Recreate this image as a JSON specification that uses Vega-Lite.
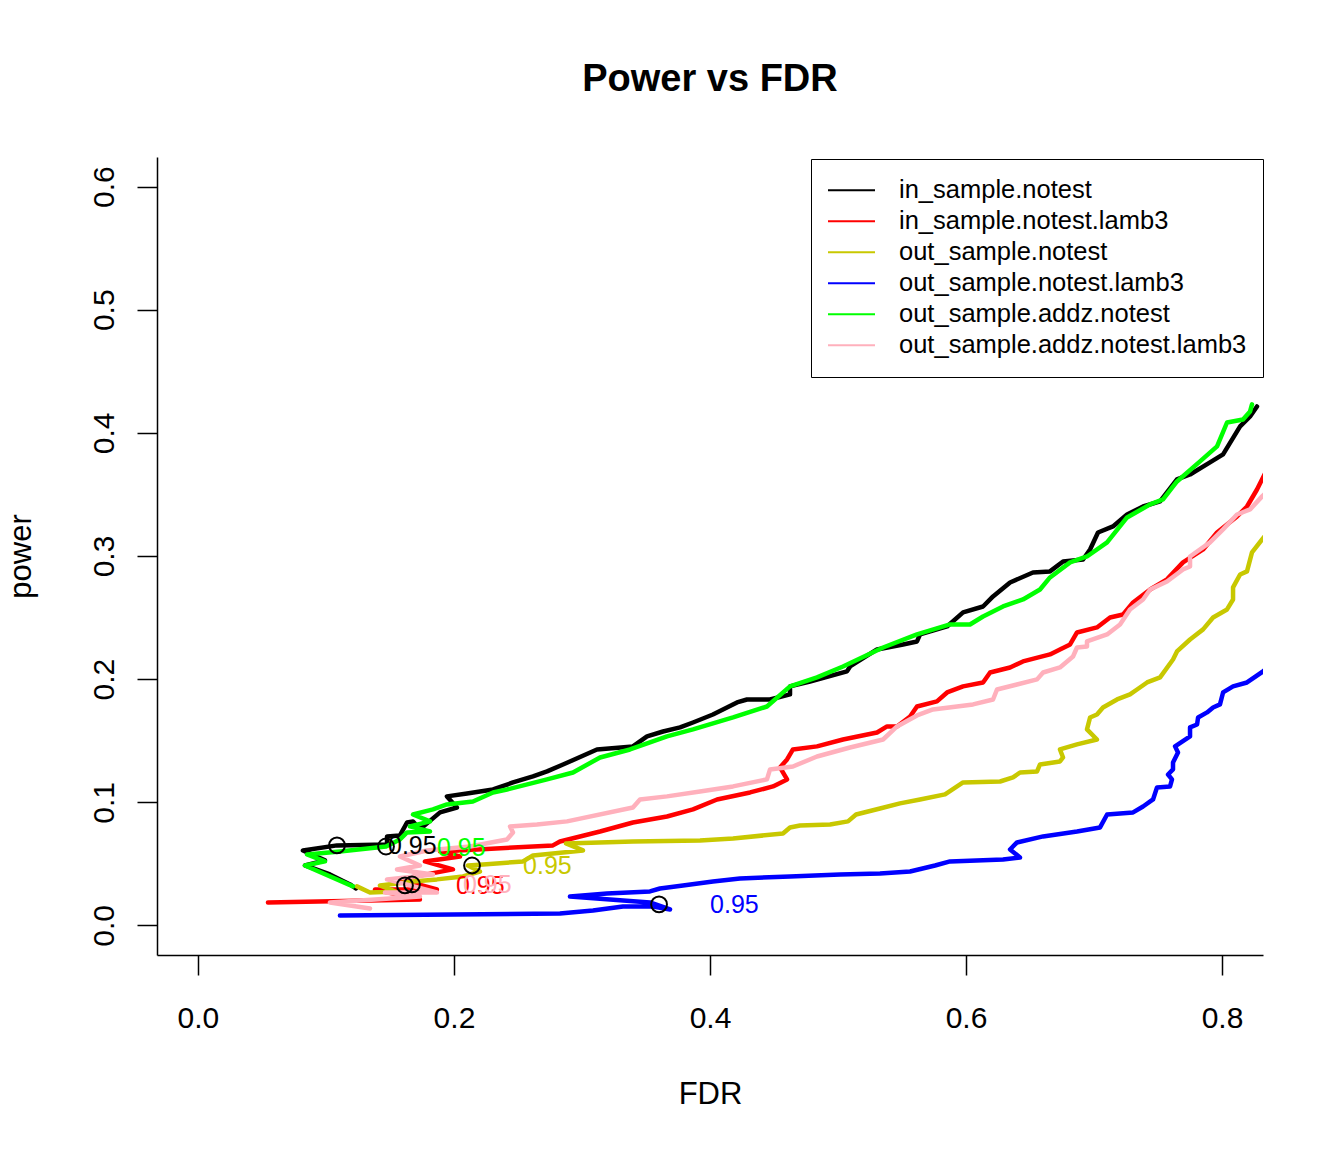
{
"$schema": "https://vega.github.io/schema/vega-lite/v6.json",
"width": 1106,
"height": 798,
"autosize": {"type": "none"},
"padding": {"left": 157, "top": 157, "right": 81, "bottom": 197},
"background": "white",
"title": {"text": "Power vs FDR", "fontSize": 38, "fontWeight": "bold", "font": "Liberation Sans", "color": "black", "anchor": "middle", "frame": "group", "baseline": "middle", "offset": 39},
"config": {"view": {"stroke": null}, "font": "Liberation Sans"},
"datasets": {
"lines": [
{"series":"in_sample.notest","i":1,"fdr":0.1234,"power":0.0300},
{"series":"in_sample.notest","i":2,"fdr":0.1188,"power":0.0333},
{"series":"in_sample.notest","i":3,"fdr":0.1031,"power":0.0414},
{"series":"in_sample.notest","i":4,"fdr":0.0836,"power":0.0487},
{"series":"in_sample.notest","i":5,"fdr":0.0992,"power":0.0528},
{"series":"in_sample.notest","i":6,"fdr":0.0820,"power":0.0609},
{"series":"in_sample.notest","i":7,"fdr":0.1086,"power":0.0650},
{"series":"in_sample.notest","i":8,"fdr":0.1477,"power":0.0658},
{"series":"in_sample.notest","i":9,"fdr":0.1477,"power":0.0723},
{"series":"in_sample.notest","i":10,"fdr":0.1578,"power":0.0731},
{"series":"in_sample.notest","i":11,"fdr":0.1633,"power":0.0836},
{"series":"in_sample.notest","i":12,"fdr":0.1680,"power":0.0845},
{"series":"in_sample.notest","i":13,"fdr":0.1734,"power":0.0780},
{"series":"in_sample.notest","i":14,"fdr":0.1891,"power":0.0918},
{"series":"in_sample.notest","i":15,"fdr":0.2023,"power":0.0958},
{"series":"in_sample.notest","i":16,"fdr":0.1945,"power":0.1048},
{"series":"in_sample.notest","i":17,"fdr":0.2102,"power":0.1072},
{"series":"in_sample.notest","i":18,"fdr":0.2305,"power":0.1104},
{"series":"in_sample.notest","i":19,"fdr":0.2461,"power":0.1161},
{"series":"in_sample.notest","i":20,"fdr":0.2617,"power":0.1210},
{"series":"in_sample.notest","i":21,"fdr":0.2727,"power":0.1251},
{"series":"in_sample.notest","i":22,"fdr":0.2852,"power":0.1307},
{"series":"in_sample.notest","i":23,"fdr":0.3117,"power":0.1429},
{"series":"in_sample.notest","i":24,"fdr":0.3398,"power":0.1454},
{"series":"in_sample.notest","i":25,"fdr":0.3508,"power":0.1535},
{"series":"in_sample.notest","i":26,"fdr":0.3633,"power":0.1575},
{"series":"in_sample.notest","i":27,"fdr":0.3766,"power":0.1608},
{"series":"in_sample.notest","i":28,"fdr":0.3867,"power":0.1648},
{"series":"in_sample.notest","i":29,"fdr":0.4023,"power":0.1713},
{"series":"in_sample.notest","i":30,"fdr":0.4211,"power":0.1811},
{"series":"in_sample.notest","i":31,"fdr":0.4289,"power":0.1835},
{"series":"in_sample.notest","i":32,"fdr":0.4469,"power":0.1835},
{"series":"in_sample.notest","i":33,"fdr":0.4625,"power":0.1876},
{"series":"in_sample.notest","i":34,"fdr":0.4625,"power":0.1941},
{"series":"in_sample.notest","i":35,"fdr":0.4781,"power":0.1981},
{"series":"in_sample.notest","i":36,"fdr":0.5070,"power":0.2063},
{"series":"in_sample.notest","i":37,"fdr":0.5094,"power":0.2103},
{"series":"in_sample.notest","i":38,"fdr":0.5305,"power":0.2241},
{"series":"in_sample.notest","i":39,"fdr":0.5508,"power":0.2282},
{"series":"in_sample.notest","i":40,"fdr":0.5617,"power":0.2306},
{"series":"in_sample.notest","i":41,"fdr":0.5641,"power":0.2363},
{"series":"in_sample.notest","i":42,"fdr":0.5852,"power":0.2428},
{"series":"in_sample.notest","i":43,"fdr":0.5977,"power":0.2542},
{"series":"in_sample.notest","i":44,"fdr":0.6133,"power":0.2590},
{"series":"in_sample.notest","i":45,"fdr":0.6211,"power":0.2672},
{"series":"in_sample.notest","i":46,"fdr":0.6344,"power":0.2785},
{"series":"in_sample.notest","i":47,"fdr":0.6523,"power":0.2866},
{"series":"in_sample.notest","i":48,"fdr":0.6656,"power":0.2875},
{"series":"in_sample.notest","i":49,"fdr":0.6758,"power":0.2956},
{"series":"in_sample.notest","i":50,"fdr":0.6914,"power":0.2972},
{"series":"in_sample.notest","i":51,"fdr":0.6969,"power":0.3053},
{"series":"in_sample.notest","i":52,"fdr":0.7031,"power":0.3191},
{"series":"in_sample.notest","i":53,"fdr":0.7148,"power":0.3240},
{"series":"in_sample.notest","i":54,"fdr":0.7258,"power":0.3337},
{"series":"in_sample.notest","i":55,"fdr":0.7383,"power":0.3402},
{"series":"in_sample.notest","i":56,"fdr":0.7516,"power":0.3443},
{"series":"in_sample.notest","i":57,"fdr":0.7648,"power":0.3622},
{"series":"in_sample.notest","i":58,"fdr":0.7750,"power":0.3662},
{"series":"in_sample.notest","i":59,"fdr":0.7906,"power":0.3760},
{"series":"in_sample.notest","i":60,"fdr":0.8008,"power":0.3825},
{"series":"in_sample.notest","i":61,"fdr":0.8141,"power":0.4052},
{"series":"in_sample.notest","i":62,"fdr":0.8219,"power":0.4133},
{"series":"in_sample.notest","i":63,"fdr":0.8273,"power":0.4214},
{"series":"in_sample.notest.lamb3","i":1,"fdr":0.0547,"power":0.0187},
{"series":"in_sample.notest.lamb3","i":2,"fdr":0.1734,"power":0.0211},
{"series":"in_sample.notest.lamb3","i":3,"fdr":0.1383,"power":0.0292},
{"series":"in_sample.notest.lamb3","i":4,"fdr":0.1867,"power":0.0292},
{"series":"in_sample.notest.lamb3","i":5,"fdr":0.1578,"power":0.0374},
{"series":"in_sample.notest.lamb3","i":6,"fdr":0.1992,"power":0.0455},
{"series":"in_sample.notest.lamb3","i":7,"fdr":0.1773,"power":0.0520},
{"series":"in_sample.notest.lamb3","i":8,"fdr":0.2047,"power":0.0560},
{"series":"in_sample.notest.lamb3","i":9,"fdr":0.1891,"power":0.0601},
{"series":"in_sample.notest.lamb3","i":10,"fdr":0.2773,"power":0.0650},
{"series":"in_sample.notest.lamb3","i":11,"fdr":0.2828,"power":0.0682},
{"series":"in_sample.notest.lamb3","i":12,"fdr":0.3141,"power":0.0763},
{"series":"in_sample.notest.lamb3","i":13,"fdr":0.3398,"power":0.0836},
{"series":"in_sample.notest.lamb3","i":14,"fdr":0.3664,"power":0.0885},
{"series":"in_sample.notest.lamb3","i":15,"fdr":0.3867,"power":0.0942},
{"series":"in_sample.notest.lamb3","i":16,"fdr":0.4055,"power":0.1023},
{"series":"in_sample.notest.lamb3","i":17,"fdr":0.4313,"power":0.1080},
{"series":"in_sample.notest.lamb3","i":18,"fdr":0.4492,"power":0.1129},
{"series":"in_sample.notest.lamb3","i":19,"fdr":0.4602,"power":0.1186},
{"series":"in_sample.notest.lamb3","i":20,"fdr":0.4547,"power":0.1283},
{"series":"in_sample.notest.lamb3","i":21,"fdr":0.4602,"power":0.1348},
{"series":"in_sample.notest.lamb3","i":22,"fdr":0.4648,"power":0.1429},
{"series":"in_sample.notest.lamb3","i":23,"fdr":0.4836,"power":0.1454},
{"series":"in_sample.notest.lamb3","i":24,"fdr":0.5039,"power":0.1510},
{"series":"in_sample.notest.lamb3","i":25,"fdr":0.5305,"power":0.1567},
{"series":"in_sample.notest.lamb3","i":26,"fdr":0.5383,"power":0.1616},
{"series":"in_sample.notest.lamb3","i":27,"fdr":0.5461,"power":0.1616},
{"series":"in_sample.notest.lamb3","i":28,"fdr":0.5563,"power":0.1697},
{"series":"in_sample.notest.lamb3","i":29,"fdr":0.5617,"power":0.1778},
{"series":"in_sample.notest.lamb3","i":30,"fdr":0.5773,"power":0.1819},
{"series":"in_sample.notest.lamb3","i":31,"fdr":0.5852,"power":0.1892},
{"series":"in_sample.notest.lamb3","i":32,"fdr":0.5977,"power":0.1941},
{"series":"in_sample.notest.lamb3","i":33,"fdr":0.6133,"power":0.1973},
{"series":"in_sample.notest.lamb3","i":34,"fdr":0.6188,"power":0.2054},
{"series":"in_sample.notest.lamb3","i":35,"fdr":0.6344,"power":0.2095},
{"series":"in_sample.notest.lamb3","i":36,"fdr":0.6445,"power":0.2144},
{"series":"in_sample.notest.lamb3","i":37,"fdr":0.6656,"power":0.2201},
{"series":"in_sample.notest.lamb3","i":38,"fdr":0.6734,"power":0.2241},
{"series":"in_sample.notest.lamb3","i":39,"fdr":0.6813,"power":0.2282},
{"series":"in_sample.notest.lamb3","i":40,"fdr":0.6867,"power":0.2379},
{"series":"in_sample.notest.lamb3","i":41,"fdr":0.7023,"power":0.2420},
{"series":"in_sample.notest.lamb3","i":42,"fdr":0.7125,"power":0.2501},
{"series":"in_sample.notest.lamb3","i":43,"fdr":0.7227,"power":0.2525},
{"series":"in_sample.notest.lamb3","i":44,"fdr":0.7305,"power":0.2623},
{"series":"in_sample.notest.lamb3","i":45,"fdr":0.7438,"power":0.2728},
{"series":"in_sample.notest.lamb3","i":46,"fdr":0.7570,"power":0.2810},
{"series":"in_sample.notest.lamb3","i":47,"fdr":0.7695,"power":0.2948},
{"series":"in_sample.notest.lamb3","i":48,"fdr":0.7852,"power":0.3053},
{"series":"in_sample.notest.lamb3","i":49,"fdr":0.7961,"power":0.3191},
{"series":"in_sample.notest.lamb3","i":50,"fdr":0.8117,"power":0.3321},
{"series":"in_sample.notest.lamb3","i":51,"fdr":0.8195,"power":0.3402},
{"series":"in_sample.notest.lamb3","i":52,"fdr":0.8273,"power":0.3540},
{"series":"in_sample.notest.lamb3","i":53,"fdr":0.8360,"power":0.3720},
{"series":"out_sample.notest","i":1,"fdr":0.1242,"power":0.0317},
{"series":"out_sample.notest","i":2,"fdr":0.1344,"power":0.0268},
{"series":"out_sample.notest","i":3,"fdr":0.1539,"power":0.0276},
{"series":"out_sample.notest","i":4,"fdr":0.1422,"power":0.0325},
{"series":"out_sample.notest","i":5,"fdr":0.1680,"power":0.0357},
{"series":"out_sample.notest","i":6,"fdr":0.1867,"power":0.0374},
{"series":"out_sample.notest","i":7,"fdr":0.2070,"power":0.0398},
{"series":"out_sample.notest","i":8,"fdr":0.2203,"power":0.0438},
{"series":"out_sample.notest","i":9,"fdr":0.2109,"power":0.0487},
{"series":"out_sample.notest","i":10,"fdr":0.2227,"power":0.0495},
{"series":"out_sample.notest","i":11,"fdr":0.2539,"power":0.0520},
{"series":"out_sample.notest","i":12,"fdr":0.2617,"power":0.0568},
{"series":"out_sample.notest","i":13,"fdr":0.3008,"power":0.0609},
{"series":"out_sample.notest","i":14,"fdr":0.2875,"power":0.0666},
{"series":"out_sample.notest","i":15,"fdr":0.3398,"power":0.0682},
{"series":"out_sample.notest","i":16,"fdr":0.3922,"power":0.0690},
{"series":"out_sample.notest","i":17,"fdr":0.4180,"power":0.0706},
{"series":"out_sample.notest","i":18,"fdr":0.4570,"power":0.0747},
{"series":"out_sample.notest","i":19,"fdr":0.4625,"power":0.0796},
{"series":"out_sample.notest","i":20,"fdr":0.4703,"power":0.0812},
{"series":"out_sample.notest","i":21,"fdr":0.4938,"power":0.0820},
{"series":"out_sample.notest","i":22,"fdr":0.5078,"power":0.0845},
{"series":"out_sample.notest","i":23,"fdr":0.5141,"power":0.0901},
{"series":"out_sample.notest","i":24,"fdr":0.5328,"power":0.0950},
{"series":"out_sample.notest","i":25,"fdr":0.5484,"power":0.0991},
{"series":"out_sample.notest","i":26,"fdr":0.5641,"power":0.1023},
{"series":"out_sample.notest","i":27,"fdr":0.5836,"power":0.1064},
{"series":"out_sample.notest","i":28,"fdr":0.5930,"power":0.1129},
{"series":"out_sample.notest","i":29,"fdr":0.5977,"power":0.1161},
{"series":"out_sample.notest","i":30,"fdr":0.6266,"power":0.1169},
{"series":"out_sample.notest","i":31,"fdr":0.6367,"power":0.1202},
{"series":"out_sample.notest","i":32,"fdr":0.6422,"power":0.1242},
{"series":"out_sample.notest","i":33,"fdr":0.6555,"power":0.1251},
{"series":"out_sample.notest","i":34,"fdr":0.6578,"power":0.1307},
{"series":"out_sample.notest","i":35,"fdr":0.6734,"power":0.1332},
{"series":"out_sample.notest","i":36,"fdr":0.6758,"power":0.1364},
{"series":"out_sample.notest","i":37,"fdr":0.6734,"power":0.1429},
{"series":"out_sample.notest","i":38,"fdr":0.6867,"power":0.1470},
{"series":"out_sample.notest","i":39,"fdr":0.7023,"power":0.1510},
{"series":"out_sample.notest","i":40,"fdr":0.6945,"power":0.1592},
{"series":"out_sample.notest","i":41,"fdr":0.6969,"power":0.1689},
{"series":"out_sample.notest","i":42,"fdr":0.7023,"power":0.1713},
{"series":"out_sample.notest","i":43,"fdr":0.7070,"power":0.1770},
{"series":"out_sample.notest","i":44,"fdr":0.7180,"power":0.1835},
{"series":"out_sample.notest","i":45,"fdr":0.7281,"power":0.1876},
{"series":"out_sample.notest","i":46,"fdr":0.7336,"power":0.1916},
{"series":"out_sample.notest","i":47,"fdr":0.7414,"power":0.1973},
{"series":"out_sample.notest","i":48,"fdr":0.7516,"power":0.2014},
{"series":"out_sample.notest","i":49,"fdr":0.7617,"power":0.2160},
{"series":"out_sample.notest","i":50,"fdr":0.7648,"power":0.2225},
{"series":"out_sample.notest","i":51,"fdr":0.7750,"power":0.2322},
{"series":"out_sample.notest","i":52,"fdr":0.7852,"power":0.2404},
{"series":"out_sample.notest","i":53,"fdr":0.7930,"power":0.2501},
{"series":"out_sample.notest","i":54,"fdr":0.8039,"power":0.2566},
{"series":"out_sample.notest","i":55,"fdr":0.8086,"power":0.2647},
{"series":"out_sample.notest","i":56,"fdr":0.8086,"power":0.2745},
{"series":"out_sample.notest","i":57,"fdr":0.8141,"power":0.2850},
{"series":"out_sample.notest","i":58,"fdr":0.8195,"power":0.2875},
{"series":"out_sample.notest","i":59,"fdr":0.8234,"power":0.3029},
{"series":"out_sample.notest","i":60,"fdr":0.8313,"power":0.3134},
{"series":"out_sample.notest","i":61,"fdr":0.8380,"power":0.3220},
{"series":"out_sample.notest.lamb3","i":1,"fdr":0.1109,"power":0.0081},
{"series":"out_sample.notest.lamb3","i":2,"fdr":0.2828,"power":0.0097},
{"series":"out_sample.notest.lamb3","i":3,"fdr":0.3086,"power":0.0122},
{"series":"out_sample.notest.lamb3","i":4,"fdr":0.3320,"power":0.0154},
{"series":"out_sample.notest.lamb3","i":5,"fdr":0.3555,"power":0.0154},
{"series":"out_sample.notest.lamb3","i":6,"fdr":0.3688,"power":0.0130},
{"series":"out_sample.notest.lamb3","i":7,"fdr":0.3531,"power":0.0187},
{"series":"out_sample.notest.lamb3","i":8,"fdr":0.2906,"power":0.0235},
{"series":"out_sample.notest.lamb3","i":9,"fdr":0.3195,"power":0.0260},
{"series":"out_sample.notest.lamb3","i":10,"fdr":0.3531,"power":0.0276},
{"series":"out_sample.notest.lamb3","i":11,"fdr":0.3609,"power":0.0300},
{"series":"out_sample.notest.lamb3","i":12,"fdr":0.3789,"power":0.0325},
{"series":"out_sample.notest.lamb3","i":13,"fdr":0.4023,"power":0.0357},
{"series":"out_sample.notest.lamb3","i":14,"fdr":0.4234,"power":0.0382},
{"series":"out_sample.notest.lamb3","i":15,"fdr":0.4625,"power":0.0398},
{"series":"out_sample.notest.lamb3","i":16,"fdr":0.5016,"power":0.0414},
{"series":"out_sample.notest.lamb3","i":17,"fdr":0.5328,"power":0.0422},
{"series":"out_sample.notest.lamb3","i":18,"fdr":0.5563,"power":0.0438},
{"series":"out_sample.notest.lamb3","i":19,"fdr":0.5758,"power":0.0487},
{"series":"out_sample.notest.lamb3","i":20,"fdr":0.5875,"power":0.0520},
{"series":"out_sample.notest.lamb3","i":21,"fdr":0.6289,"power":0.0536},
{"series":"out_sample.notest.lamb3","i":22,"fdr":0.6422,"power":0.0552},
{"series":"out_sample.notest.lamb3","i":23,"fdr":0.6344,"power":0.0617},
{"series":"out_sample.notest.lamb3","i":24,"fdr":0.6398,"power":0.0674},
{"series":"out_sample.notest.lamb3","i":25,"fdr":0.6602,"power":0.0723},
{"series":"out_sample.notest.lamb3","i":26,"fdr":0.6867,"power":0.0763},
{"series":"out_sample.notest.lamb3","i":27,"fdr":0.7047,"power":0.0796},
{"series":"out_sample.notest.lamb3","i":28,"fdr":0.7102,"power":0.0901},
{"series":"out_sample.notest.lamb3","i":29,"fdr":0.7305,"power":0.0918},
{"series":"out_sample.notest.lamb3","i":30,"fdr":0.7383,"power":0.0966},
{"series":"out_sample.notest.lamb3","i":31,"fdr":0.7461,"power":0.1023},
{"series":"out_sample.notest.lamb3","i":32,"fdr":0.7492,"power":0.1121},
{"series":"out_sample.notest.lamb3","i":33,"fdr":0.7594,"power":0.1129},
{"series":"out_sample.notest.lamb3","i":34,"fdr":0.7609,"power":0.1186},
{"series":"out_sample.notest.lamb3","i":35,"fdr":0.7578,"power":0.1226},
{"series":"out_sample.notest.lamb3","i":36,"fdr":0.7617,"power":0.1267},
{"series":"out_sample.notest.lamb3","i":37,"fdr":0.7617,"power":0.1324},
{"series":"out_sample.notest.lamb3","i":38,"fdr":0.7656,"power":0.1405},
{"series":"out_sample.notest.lamb3","i":39,"fdr":0.7633,"power":0.1454},
{"series":"out_sample.notest.lamb3","i":40,"fdr":0.7750,"power":0.1535},
{"series":"out_sample.notest.lamb3","i":41,"fdr":0.7750,"power":0.1608},
{"series":"out_sample.notest.lamb3","i":42,"fdr":0.7805,"power":0.1632},
{"series":"out_sample.notest.lamb3","i":43,"fdr":0.7813,"power":0.1689},
{"series":"out_sample.notest.lamb3","i":44,"fdr":0.7883,"power":0.1730},
{"series":"out_sample.notest.lamb3","i":45,"fdr":0.7930,"power":0.1770},
{"series":"out_sample.notest.lamb3","i":46,"fdr":0.7984,"power":0.1795},
{"series":"out_sample.notest.lamb3","i":47,"fdr":0.8008,"power":0.1892},
{"series":"out_sample.notest.lamb3","i":48,"fdr":0.8086,"power":0.1941},
{"series":"out_sample.notest.lamb3","i":49,"fdr":0.8195,"power":0.1973},
{"series":"out_sample.notest.lamb3","i":50,"fdr":0.8320,"power":0.2063},
{"series":"out_sample.notest.lamb3","i":51,"fdr":0.8380,"power":0.2110},
{"series":"out_sample.addz.notest","i":1,"fdr":0.1211,"power":0.0317},
{"series":"out_sample.addz.notest","i":2,"fdr":0.0836,"power":0.0487},
{"series":"out_sample.addz.notest","i":3,"fdr":0.0992,"power":0.0520},
{"series":"out_sample.addz.notest","i":4,"fdr":0.0852,"power":0.0577},
{"series":"out_sample.addz.notest","i":5,"fdr":0.1109,"power":0.0601},
{"series":"out_sample.addz.notest","i":6,"fdr":0.1469,"power":0.0641},
{"series":"out_sample.addz.notest","i":7,"fdr":0.1578,"power":0.0698},
{"series":"out_sample.addz.notest","i":8,"fdr":0.1633,"power":0.0755},
{"series":"out_sample.addz.notest","i":9,"fdr":0.1813,"power":0.0763},
{"series":"out_sample.addz.notest","i":10,"fdr":0.1656,"power":0.0804},
{"series":"out_sample.addz.notest","i":11,"fdr":0.1813,"power":0.0845},
{"series":"out_sample.addz.notest","i":12,"fdr":0.1680,"power":0.0901},
{"series":"out_sample.addz.notest","i":13,"fdr":0.1836,"power":0.0942},
{"series":"out_sample.addz.notest","i":14,"fdr":0.1945,"power":0.0983},
{"series":"out_sample.addz.notest","i":15,"fdr":0.2148,"power":0.1007},
{"series":"out_sample.addz.notest","i":16,"fdr":0.2305,"power":0.1080},
{"series":"out_sample.addz.notest","i":17,"fdr":0.2414,"power":0.1104},
{"series":"out_sample.addz.notest","i":18,"fdr":0.2727,"power":0.1186},
{"series":"out_sample.addz.notest","i":19,"fdr":0.2930,"power":0.1242},
{"series":"out_sample.addz.notest","i":20,"fdr":0.3141,"power":0.1364},
{"series":"out_sample.addz.notest","i":21,"fdr":0.3375,"power":0.1429},
{"series":"out_sample.addz.notest","i":22,"fdr":0.3531,"power":0.1486},
{"series":"out_sample.addz.notest","i":23,"fdr":0.3664,"power":0.1535},
{"series":"out_sample.addz.notest","i":24,"fdr":0.3867,"power":0.1592},
{"series":"out_sample.addz.notest","i":25,"fdr":0.4180,"power":0.1689},
{"series":"out_sample.addz.notest","i":26,"fdr":0.4445,"power":0.1778},
{"series":"out_sample.addz.notest","i":27,"fdr":0.4625,"power":0.1941},
{"series":"out_sample.addz.notest","i":28,"fdr":0.4836,"power":0.2014},
{"series":"out_sample.addz.notest","i":29,"fdr":0.5039,"power":0.2103},
{"series":"out_sample.addz.notest","i":30,"fdr":0.5352,"power":0.2257},
{"series":"out_sample.addz.notest","i":31,"fdr":0.5617,"power":0.2363},
{"series":"out_sample.addz.notest","i":32,"fdr":0.5875,"power":0.2444},
{"series":"out_sample.addz.notest","i":33,"fdr":0.6031,"power":0.2444},
{"series":"out_sample.addz.notest","i":34,"fdr":0.6133,"power":0.2509},
{"series":"out_sample.addz.notest","i":35,"fdr":0.6289,"power":0.2590},
{"series":"out_sample.addz.notest","i":36,"fdr":0.6445,"power":0.2647},
{"series":"out_sample.addz.notest","i":37,"fdr":0.6578,"power":0.2728},
{"series":"out_sample.addz.notest","i":38,"fdr":0.6656,"power":0.2826},
{"series":"out_sample.addz.notest","i":39,"fdr":0.6813,"power":0.2948},
{"series":"out_sample.addz.notest","i":40,"fdr":0.6945,"power":0.2996},
{"series":"out_sample.addz.notest","i":41,"fdr":0.7102,"power":0.3110},
{"series":"out_sample.addz.notest","i":42,"fdr":0.7258,"power":0.3313},
{"series":"out_sample.addz.notest","i":43,"fdr":0.7438,"power":0.3419},
{"series":"out_sample.addz.notest","i":44,"fdr":0.7539,"power":0.3459},
{"series":"out_sample.addz.notest","i":45,"fdr":0.7648,"power":0.3605},
{"series":"out_sample.addz.notest","i":46,"fdr":0.7828,"power":0.3768},
{"series":"out_sample.addz.notest","i":47,"fdr":0.7961,"power":0.3890},
{"series":"out_sample.addz.notest","i":48,"fdr":0.8039,"power":0.4084},
{"series":"out_sample.addz.notest","i":49,"fdr":0.8164,"power":0.4109},
{"series":"out_sample.addz.notest","i":50,"fdr":0.8219,"power":0.4174},
{"series":"out_sample.addz.notest","i":51,"fdr":0.8234,"power":0.4231},
{"series":"out_sample.addz.notest.lamb3","i":1,"fdr":0.1344,"power":0.0138},
{"series":"out_sample.addz.notest.lamb3","i":2,"fdr":0.1031,"power":0.0187},
{"series":"out_sample.addz.notest.lamb3","i":3,"fdr":0.1734,"power":0.0235},
{"series":"out_sample.addz.notest.lamb3","i":4,"fdr":0.1461,"power":0.0268},
{"series":"out_sample.addz.notest.lamb3","i":5,"fdr":0.1867,"power":0.0268},
{"series":"out_sample.addz.notest.lamb3","i":6,"fdr":0.1477,"power":0.0374},
{"series":"out_sample.addz.notest.lamb3","i":7,"fdr":0.1836,"power":0.0414},
{"series":"out_sample.addz.notest.lamb3","i":8,"fdr":0.1555,"power":0.0455},
{"series":"out_sample.addz.notest.lamb3","i":9,"fdr":0.1734,"power":0.0487},
{"series":"out_sample.addz.notest.lamb3","i":10,"fdr":0.1578,"power":0.0560},
{"series":"out_sample.addz.notest.lamb3","i":11,"fdr":0.1789,"power":0.0609},
{"series":"out_sample.addz.notest.lamb3","i":12,"fdr":0.2125,"power":0.0641},
{"series":"out_sample.addz.notest.lamb3","i":13,"fdr":0.2414,"power":0.0698},
{"series":"out_sample.addz.notest.lamb3","i":14,"fdr":0.2461,"power":0.0755},
{"series":"out_sample.addz.notest.lamb3","i":15,"fdr":0.2438,"power":0.0804},
{"series":"out_sample.addz.notest.lamb3","i":16,"fdr":0.2648,"power":0.0820},
{"series":"out_sample.addz.notest.lamb3","i":17,"fdr":0.2883,"power":0.0845},
{"series":"out_sample.addz.notest.lamb3","i":18,"fdr":0.3398,"power":0.0958},
{"series":"out_sample.addz.notest.lamb3","i":19,"fdr":0.3453,"power":0.1023},
{"series":"out_sample.addz.notest.lamb3","i":20,"fdr":0.3664,"power":0.1048},
{"series":"out_sample.addz.notest.lamb3","i":21,"fdr":0.3922,"power":0.1088},
{"series":"out_sample.addz.notest.lamb3","i":22,"fdr":0.4180,"power":0.1129},
{"series":"out_sample.addz.notest.lamb3","i":23,"fdr":0.4445,"power":0.1186},
{"series":"out_sample.addz.notest.lamb3","i":24,"fdr":0.4469,"power":0.1267},
{"series":"out_sample.addz.notest.lamb3","i":25,"fdr":0.4648,"power":0.1291},
{"series":"out_sample.addz.notest.lamb3","i":26,"fdr":0.4836,"power":0.1372},
{"series":"out_sample.addz.notest.lamb3","i":27,"fdr":0.5094,"power":0.1445},
{"series":"out_sample.addz.notest.lamb3","i":28,"fdr":0.5352,"power":0.1510},
{"series":"out_sample.addz.notest.lamb3","i":29,"fdr":0.5461,"power":0.1616},
{"series":"out_sample.addz.notest.lamb3","i":30,"fdr":0.5617,"power":0.1705},
{"series":"out_sample.addz.notest.lamb3","i":31,"fdr":0.5742,"power":0.1754},
{"series":"out_sample.addz.notest.lamb3","i":32,"fdr":0.6055,"power":0.1795},
{"series":"out_sample.addz.notest.lamb3","i":33,"fdr":0.6211,"power":0.1835},
{"series":"out_sample.addz.notest.lamb3","i":34,"fdr":0.6242,"power":0.1916},
{"series":"out_sample.addz.notest.lamb3","i":35,"fdr":0.6398,"power":0.1957},
{"series":"out_sample.addz.notest.lamb3","i":36,"fdr":0.6555,"power":0.1998},
{"series":"out_sample.addz.notest.lamb3","i":37,"fdr":0.6602,"power":0.2054},
{"series":"out_sample.addz.notest.lamb3","i":38,"fdr":0.6734,"power":0.2095},
{"series":"out_sample.addz.notest.lamb3","i":39,"fdr":0.6836,"power":0.2184},
{"series":"out_sample.addz.notest.lamb3","i":40,"fdr":0.6867,"power":0.2257},
{"series":"out_sample.addz.notest.lamb3","i":41,"fdr":0.6945,"power":0.2266},
{"series":"out_sample.addz.notest.lamb3","i":42,"fdr":0.6945,"power":0.2306},
{"series":"out_sample.addz.notest.lamb3","i":43,"fdr":0.7102,"power":0.2363},
{"series":"out_sample.addz.notest.lamb3","i":44,"fdr":0.7203,"power":0.2444},
{"series":"out_sample.addz.notest.lamb3","i":45,"fdr":0.7281,"power":0.2566},
{"series":"out_sample.addz.notest.lamb3","i":46,"fdr":0.7383,"power":0.2647},
{"series":"out_sample.addz.notest.lamb3","i":47,"fdr":0.7438,"power":0.2728},
{"series":"out_sample.addz.notest.lamb3","i":48,"fdr":0.7570,"power":0.2793},
{"series":"out_sample.addz.notest.lamb3","i":49,"fdr":0.7695,"power":0.2891},
{"series":"out_sample.addz.notest.lamb3","i":50,"fdr":0.7750,"power":0.2915},
{"series":"out_sample.addz.notest.lamb3","i":51,"fdr":0.7750,"power":0.2996},
{"series":"out_sample.addz.notest.lamb3","i":52,"fdr":0.7906,"power":0.3110},
{"series":"out_sample.addz.notest.lamb3","i":53,"fdr":0.8008,"power":0.3216},
{"series":"out_sample.addz.notest.lamb3","i":54,"fdr":0.8117,"power":0.3337},
{"series":"out_sample.addz.notest.lamb3","i":55,"fdr":0.8219,"power":0.3378},
{"series":"out_sample.addz.notest.lamb3","i":56,"fdr":0.8313,"power":0.3484},
{"series":"out_sample.addz.notest.lamb3","i":57,"fdr":0.8380,"power":0.3550}
],
"marks": [
{"series":"in_sample.notest","fdr":0.1086,"power":0.0650,"label":"0.95"},
{"series":"in_sample.notest.lamb3","fdr":0.1617,"power":0.0325,"label":"0.95"},
{"series":"out_sample.notest","fdr":0.2141,"power":0.0487,"label":"0.95"},
{"series":"out_sample.notest.lamb3","fdr":0.3602,"power":0.0171,"label":"0.95"},
{"series":"out_sample.addz.notest","fdr":0.1469,"power":0.0641,"label":"0.95"},
{"series":"out_sample.addz.notest.lamb3","fdr":0.1672,"power":0.0333,"label":"0.95"}
]
},
"encoding": {
"x": {"field": "fdr", "type": "quantitative", "scale": {"domain": [-0.032, 0.832], "nice": false, "zero": false},
 "axis": {"values": [0, 0.2, 0.4, 0.6, 0.8], "format": ".1f", "title": "FDR", "grid": false, "domainColor": "black", "domainWidth": 1.5, "tickColor": "black", "tickWidth": 1.5, "tickSize": 20, "labelFontSize": 30, "labelColor": "black", "labelFont": "Liberation Sans", "labelPadding": 52, "labelBaseline": "alphabetic", "labelFlush": false, "labelOverlap": false, "titleFontSize": 31, "titleFontWeight": "normal", "titleColor": "black", "titleFont": "Liberation Sans", "titleY": 148, "titleBaseline": "alphabetic"}},
"y": {"field": "power", "type": "quantitative", "scale": {"domain": [-0.024, 0.624], "nice": false, "zero": false},
 "axis": {"values": [0, 0.1, 0.2, 0.3, 0.4, 0.5, 0.6], "format": ".1f", "title": "power", "grid": false, "domainColor": "black", "domainWidth": 1.5, "tickColor": "black", "tickWidth": 1.5, "tickSize": 20, "labelFontSize": 30, "labelColor": "black", "labelFont": "Liberation Sans", "labelAngle": -90, "labelAlign": "center", "labelBaseline": "alphabetic", "labelPadding": 24, "labelFlush": false, "labelOverlap": false, "titleFontSize": 31, "titleFontWeight": "normal", "titleColor": "black", "titleFont": "Liberation Sans", "titleAngle": -90, "titleX": -127, "titleY": 399, "titleAlign": "center", "titleBaseline": "alphabetic"}}
},
"layer": [
{"data": {"name": "lines"},
 "mark": {"type": "line", "strokeWidth": 4.5, "clip": true, "strokeJoin": "round", "strokeCap": "round"},
 "encoding": {
  "color": {"field": "series", "type": "nominal",
   "scale": {"domain": ["in_sample.notest", "in_sample.notest.lamb3", "out_sample.notest", "out_sample.notest.lamb3", "out_sample.addz.notest", "out_sample.addz.notest.lamb3"], "range": ["#000000", "#FF0000", "#C8C800", "#0000FF", "#00FF00", "#FFB0BC"]},
   "legend": {"title": null, "orient": "none", "legendX": 654, "legendY": 2, "direction": "vertical", "symbolType": "stroke", "symbolSize": 2209, "symbolStrokeWidth": 2, "labelFontSize": 25.5, "labelFont": "Liberation Sans", "labelColor": "black", "labelOffset": 23, "labelLimit": 600, "padding": 16, "strokeColor": "black", "fillColor": "white", "cornerRadius": 0, "clipHeight": 30.5, "rowPadding": 0}},
  "order": {"field": "i", "type": "quantitative"}
 }},
{"data": {"name": "marks"},
 "mark": {"type": "point", "shape": "circle", "filled": false, "color": "black", "size": 250, "strokeWidth": 2, "opacity": 1}},
{"data": {"name": "marks"},
 "mark": {"type": "text", "align": "left", "baseline": "middle", "dx": 51, "dy": 1, "fontSize": 25, "font": "Liberation Sans"},
 "encoding": {
  "text": {"field": "label"},
  "color": {"field": "series", "type": "nominal", "legend": null}
 }}
]
}
